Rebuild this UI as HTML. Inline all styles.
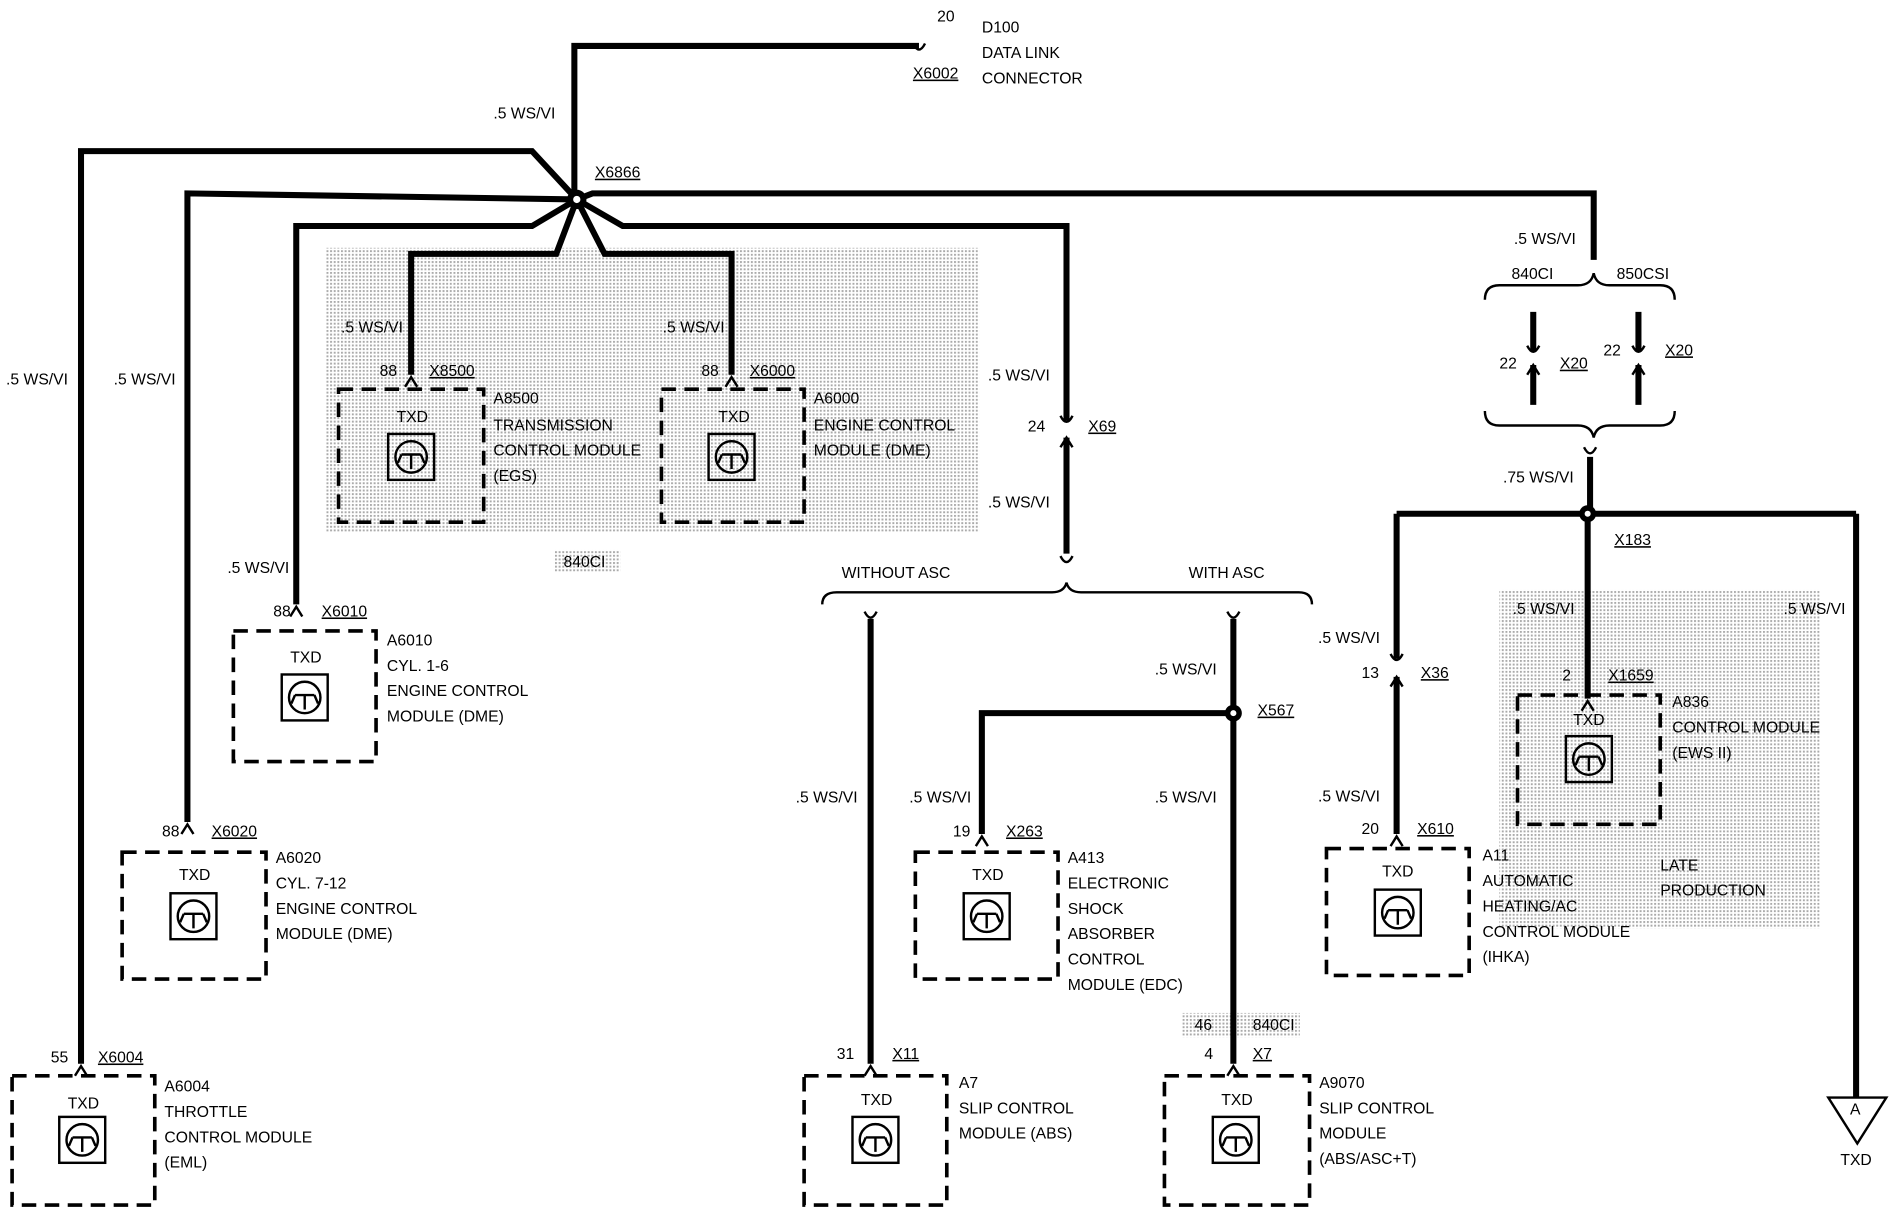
<!DOCTYPE html>
<html><head><meta charset="utf-8"><style>
html,body{margin:0;padding:0;background:#fff}
svg{display:block}
text{font-family:"Liberation Sans",sans-serif;font-size:13px;fill:#000}
.w{stroke:#000;stroke-width:5;fill:none;stroke-linejoin:miter}
.b{stroke:#000;stroke-width:3;fill:none;stroke-dasharray:12 7}
.t{stroke:#000;stroke-width:2;fill:none}
</style></head><body>
<svg width="1896" height="1216" viewBox="0 0 1568 1006" preserveAspectRatio="none">
<defs>
<pattern id="dots" width="3" height="3" patternUnits="userSpaceOnUse"><rect width="3" height="3" fill="#fff"/><rect width="1.6" height="1.6" fill="#aaa"/></pattern>
<g id="ic"><rect x="-19" y="-19" width="38" height="38" class="t"/><circle r="13" class="t"/><path d="M-8,-2 L8,-2 M0,-2 L0,10 M-8,-2 L-11,5 M8,-2 L11,5" class="t"/></g>
<path id="pin" d="M-5,8 L0,0 L5,8" stroke="#000" stroke-width="2" fill="none"/>
<path id="cup" d="M-5,-6 Q0,4 5,-6" stroke="#000" stroke-width="2" fill="none"/>
</defs>
<rect x="270" y="205" width="540" height="235" fill="url(#dots)"/>
<rect x="458" y="455" width="55" height="18" fill="url(#dots)"/>
<rect x="1240" y="488" width="265" height="280" fill="url(#dots)"/>
<rect x="978" y="838" width="97" height="20" fill="url(#dots)"/>
<!-- wires -->
<path class="w" d="M760,38 L475,38 L475,165"/>
<path class="w" d="M477,165 L440,125 L67,125 L67,880"/>
<path class="w" d="M477,165 L155,160 L155,680"/>
<path class="w" d="M477,165 L440,187 L245,187 L245,500"/>
<path class="w" d="M477,165 L460,210 L340,210 L340,310"/>
<path class="w" d="M477,165 L500,210 L605,210 L605,310"/>
<path class="w" d="M477,165 L515,187 L882,187 L882,348"/>
<path class="w" d="M882,362 L882,458"/>
<path class="w" d="M477,165 L490,160 L1318,160 L1318,215"/>
<circle cx="477" cy="165" r="8" fill="#000"/><circle cx="477" cy="165" r="3" fill="#fff"/>
<!-- brackets top right -->
<path class="t" d="M1228,248 Q1228,236 1240,236 L1305,236 Q1316,236 1318,226 Q1320,236 1331,236 L1373,236 Q1385,236 1385,248"/>
<path class="t" d="M1228,340 Q1228,352 1240,352 L1305,352 Q1316,352 1318,362 Q1320,352 1331,352 L1373,352 Q1385,352 1385,340"/>
<path class="w" d="M1268,258 L1268,290 M1268,302 L1268,335 M1355,258 L1355,290 M1355,302 L1355,335"/>
<path class="w" d="M1315,378 L1315,425 M1155,425 L1535,425 M1155,425 L1155,545 M1155,560 L1155,690 M1313,425 L1313,578 M1535,425 L1535,908"/>
<circle cx="1313" cy="425" r="7" fill="#000"/><circle cx="1313" cy="425" r="2.5" fill="#fff"/>
<path class="t" d="M1512,908 L1560,908 L1536,946 Z"/>
<!-- ASC bracket -->
<path class="t" d="M680,500 Q680,490 692,490 L870,490 Q880,490 882,482 Q884,490 894,490 L1074,490 Q1085,490 1085,500"/>
<path class="w" d="M720,512 L720,880 M1020,512 L1020,880 M1020,590 L812,590 L812,690"/>
<circle cx="1020" cy="590" r="7" fill="#000"/><circle cx="1020" cy="590" r="2.5" fill="#fff"/>
<!-- pins -->
<use href="#pin" x="340" y="312"/><use href="#pin" x="605" y="312"/><use href="#pin" x="245" y="502"/>
<use href="#pin" x="155" y="682"/><use href="#pin" x="67" y="882"/><use href="#pin" x="720" y="882"/>
<use href="#pin" x="1020" y="882"/><use href="#pin" x="812" y="692"/><use href="#pin" x="1155" y="692"/>
<use href="#pin" x="1313" y="580"/><use href="#pin" x="882" y="362"/><use href="#cup" x="882" y="350"/>
<use href="#pin" x="1155" y="560"/><use href="#cup" x="1155" y="547"/>
<use href="#pin" x="1268" y="302"/><use href="#cup" x="1268" y="292"/>
<use href="#pin" x="1355" y="302"/><use href="#cup" x="1355" y="292"/>
<use href="#cup" x="882" y="466"/><use href="#cup" x="720" y="512"/><use href="#cup" x="1020" y="512"/>
<use href="#cup" x="1315" y="376"/><use href="#cup" x="760" y="42"/>
<!-- boxes -->
<rect class="b" x="280" y="322" width="120" height="110"/><use href="#ic" x="340" y="378"/>
<rect class="b" x="547" y="322" width="118" height="110"/><use href="#ic" x="605" y="378"/>
<rect class="b" x="193" y="522" width="118" height="108"/><use href="#ic" x="252" y="577"/>
<rect class="b" x="101" y="705" width="119" height="105"/><use href="#ic" x="160" y="758"/>
<rect class="b" x="10" y="890" width="118" height="107"/><use href="#ic" x="68" y="943"/>
<rect class="b" x="665" y="890" width="118" height="107"/><use href="#ic" x="724" y="943"/>
<rect class="b" x="757" y="705" width="118" height="105"/><use href="#ic" x="816" y="758"/>
<rect class="b" x="963" y="890" width="120" height="107"/><use href="#ic" x="1022" y="943"/>
<rect class="b" x="1097" y="702" width="118" height="105"/><use href="#ic" x="1156" y="755"/>
<rect class="b" x="1255" y="575" width="118" height="107"/><use href="#ic" x="1314" y="628"/>
<!-- labels -->
<text x="775" y="18">20</text><text x="812" y="27">D100</text><text x="812" y="48">DATA LINK</text><text x="812" y="69">CONNECTOR</text><text x="755" y="65" text-decoration="underline">X6002</text>
<text x="408" y="98">.5 WS/VI</text><text x="492" y="147" text-decoration="underline">X6866</text>
<text x="5" y="318">.5 WS/VI</text><text x="94" y="318">.5 WS/VI</text><text x="188" y="474">.5 WS/VI</text>
<text x="282" y="275">.5 WS/VI</text><text x="548" y="275">.5 WS/VI</text>
<text x="314" y="311">88</text><text x="355" y="311" text-decoration="underline">X8500</text>
<text x="580" y="311">88</text><text x="620" y="311" text-decoration="underline">X6000</text>
<text x="328" y="349">TXD</text><text x="594" y="349">TXD</text>
<text x="408" y="334">A8500</text><text x="408" y="356">TRANSMISSION</text><text x="408" y="377">CONTROL MODULE</text><text x="408" y="398">(EGS)</text>
<text x="673" y="334">A6000</text><text x="673" y="356">ENGINE CONTROL</text><text x="673" y="377">MODULE (DME)</text>
<text x="466" y="469">840CI</text>
<text x="226" y="510">88</text><text x="266" y="510" text-decoration="underline">X6010</text><text x="240" y="548">TXD</text>
<text x="320" y="534">A6010</text><text x="320" y="555">CYL. 1-6</text><text x="320" y="576">ENGINE CONTROL</text><text x="320" y="597">MODULE (DME)</text>
<text x="134" y="692">88</text><text x="175" y="692" text-decoration="underline">X6020</text><text x="148" y="728">TXD</text>
<text x="228" y="714">A6020</text><text x="228" y="735">CYL. 7-12</text><text x="228" y="756">ENGINE CONTROL</text><text x="228" y="777">MODULE (DME)</text>
<text x="42" y="879">55</text><text x="81" y="879" text-decoration="underline">X6004</text><text x="56" y="917">TXD</text>
<text x="136" y="903">A6004</text><text x="136" y="924">THROTTLE</text><text x="136" y="945">CONTROL MODULE</text><text x="136" y="966">(EML)</text>
<text x="817" y="315">.5 WS/VI</text><text x="850" y="357">24</text><text x="900" y="357" text-decoration="underline">X69</text><text x="817" y="420">.5 WS/VI</text>
<text x="696" y="478">WITHOUT ASC</text><text x="983" y="478">WITH ASC</text>
<text x="955" y="558">.5 WS/VI</text><text x="1040" y="592" text-decoration="underline">X567</text>
<text x="658" y="664">.5 WS/VI</text><text x="752" y="664">.5 WS/VI</text><text x="955" y="664">.5 WS/VI</text>
<text x="788" y="692">19</text><text x="832" y="692" text-decoration="underline">X263</text><text x="804" y="728">TXD</text>
<text x="883" y="714">A413</text><text x="883" y="735">ELECTRONIC</text><text x="883" y="756">SHOCK</text><text x="883" y="777">ABSORBER</text><text x="883" y="798">CONTROL</text><text x="883" y="819">MODULE (EDC)</text>
<text x="988" y="852">46</text><text x="1036" y="852">840CI</text>
<text x="692" y="876">31</text><text x="738" y="876" text-decoration="underline">X11</text><text x="712" y="914">TXD</text>
<text x="793" y="900">A7</text><text x="793" y="921">SLIP CONTROL</text><text x="793" y="942">MODULE (ABS)</text>
<text x="996" y="876">4</text><text x="1036" y="876" text-decoration="underline">X7</text><text x="1010" y="914">TXD</text>
<text x="1091" y="900">A9070</text><text x="1091" y="921">SLIP CONTROL</text><text x="1091" y="942">MODULE</text><text x="1091" y="963">(ABS/ASC+T)</text>
<text x="1252" y="202">.5 WS/VI</text><text x="1250" y="231">840CI</text><text x="1337" y="231">850CSI</text>
<text x="1240" y="305">22</text><text x="1290" y="305" text-decoration="underline">X20</text><text x="1326" y="294">22</text><text x="1377" y="294" text-decoration="underline">X20</text>
<text x="1243" y="399">.75 WS/VI</text><text x="1335" y="451" text-decoration="underline">X183</text>
<text x="1251" y="508">.5 WS/VI</text><text x="1475" y="508">.5 WS/VI</text><text x="1090" y="532">.5 WS/VI</text>
<text x="1126" y="561">13</text><text x="1175" y="561" text-decoration="underline">X36</text>
<text x="1292" y="563">2</text><text x="1330" y="563" text-decoration="underline">X1659</text><text x="1301" y="600">TXD</text>
<text x="1383" y="585">A836</text><text x="1383" y="606">CONTROL MODULE</text><text x="1383" y="627">(EWS II)</text>
<text x="1090" y="663">.5 WS/VI</text><text x="1126" y="690">20</text><text x="1172" y="690" text-decoration="underline">X610</text><text x="1143" y="725">TXD</text>
<text x="1226" y="712">A11</text><text x="1226" y="733">AUTOMATIC</text><text x="1226" y="754">HEATING/AC</text><text x="1226" y="775">CONTROL MODULE</text><text x="1226" y="796">(IHKA)</text>
<text x="1373" y="720">LATE</text><text x="1373" y="741">PRODUCTION</text>
<text x="1530" y="922" font-size="12">A</text><text x="1522" y="964">TXD</text>
</svg>
</body></html>
